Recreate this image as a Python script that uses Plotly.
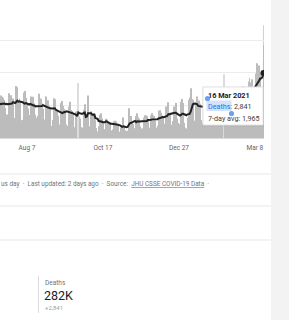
import pandas as pd
import plotly.graph_objects as go

# ---------------- data ----------------
start_date = "2020-07-05"
weekly_deaths = [
    [602, 620, 1254, 1223, 1220, 1214, 1071],
    [631, 733, 1300, 1261, 1233, 1163, 921],
    [716, 632, 1367, 1284, 1311, 1156, 1211],
    [555, 614, 1595, 1554, 1129, 1212, 1088],
    [541, 561, 1394, 1437, 1226, 1079, 905],
    [572, 703, 1274, 1175, 1262, 1060, 709],
    [620, 684, 1352, 1212, 1204, 1054, 892],
    [494, 565, 1271, 1085, 1156, 984, 913],
    [366, 553, 1215, 1184, 834, 874, 682],
    [310, 415, 1075, 1136, 983, 899, 814],
    [415, 377, 968, 1113, 858, 829, 739],
    [300, 330, 800, 820, 1680, 650, 600],
    [335, 317, 863, 1031, 729, 728, 1300],
    [363, 318, 819, 734, 730, 754, 543],
    [309, 201, 361, 713, 754, 597, 461],
    [230, 271, 586, 566, 497, 485, 432],
    [231, 263, 510, 530, 502, 420, 396],
    [190, 162, 320, 400, 630, 340, 240],
    [216, 219, 908, 598, 675, 500, 426],
    [235, 300, 676, 754, 638, 589, 350],
    [287, 302, 630, 698, 691, 673, 587],
    [272, 317, 697, 755, 694, 672, 534],
    [313, 376, 842, 848, 770, 686, 654],
    [279, 433, 964, 936, 1092, 764, 706],
    [403, 523, 968, 963, 1074, 600, 460],
    [324, 431, 1111, 1194, 1074, 462, 314],
    [293, 620, 1171, 1242, 1524, 1186, 1171],
    [469, 529, 1110, 1274, 1131, 1151, 1050],
    [551, 452, 1183, 1340, 1024, 1096, 1050],
    [592, 627, 1214, 1283, 1386, 1235, 1115],
    [595, 595, 1209, 1239, 1232, 1232, 1051],
    [1950, 631, 1350, 1330, 1452, 1212, 1147],
    [713, 647, 1035, 1104, 1367, 1340, 1212],
    [527, 639, 1386, 1428, 1582, 1541, 1275],
    [721, 778, 1726, 1840, 1699, 1800, 1555],
    [1086, 987, 1972, 2286, 2207, 2216, 1997],
    [1111, 1275, 2841],
]
light_days = ["2020-09-24", "2021-02-07"]
tick_dates = ["2020-08-07", "2020-10-17", "2020-12-27", "2021-03-08"]
tick_labels = ["Aug 7", "Oct 17", "Dec 27", "Mar 8"]
tooltip_date = "16 Mar 2021"
tooltip_deaths = "2,841"
tooltip_avg = "1,965"
total_label = "282K"
delta_label = "+2,841"

daily = [v for w in weekly_deaths for v in w]
dates = pd.date_range(start_date, periods=len(daily), freq="D")
s = pd.Series(daily, index=dates)
avg = s.rolling(7).mean()

W, H = 289, 320
def px(x):
    return x / W
def py(y):
    return 1 - y / H

light_set = set(pd.to_datetime(light_days))
colors = ["#dcdcdc" if d in light_set else "#bcbcbc" for d in dates]

fig = go.Figure()
fig.add_trace(go.Bar(x=dates, y=s.values, marker=dict(color=colors, line=dict(width=0)),
                     hoverinfo="skip"))
fig.add_trace(go.Scatter(x=dates, y=avg.values, mode="lines",
                         line=dict(color="#202124", width=2), hoverinfo="skip"))
fig.add_trace(go.Scatter(x=[dates[-1]], y=[avg.values[-1]], mode="markers",
                         marker=dict(color="#202124", size=6), hoverinfo="skip"))

shapes = []
shapes.append(dict(type="line", xref="x", yref="y", x0=dates[-1], x1=dates[-1], y0=0, y1=3450,
                   line=dict(color="#cfcfcf", width=1), layer="below"))
shapes.append(dict(type="rect", xref="paper", yref="paper", x0=px(271), x1=px(289), y0=0, y1=1,
                   fillcolor="#f3f3f3", line=dict(width=0), layer="above"))
for yy in [174, 206, 240]:
    shapes.append(dict(type="line", xref="paper", yref="paper", x0=0, x1=px(271), y0=py(yy), y1=py(yy),
                       line=dict(color="#e8e8e8", width=1.2)))
shapes.append(dict(type="line", xref="paper", yref="paper", x0=px(38.5), x1=px(38.5), y0=py(276), y1=py(313),
                   line=dict(color="#dadce0", width=1)))
# tooltip shadow + box
shapes.append(dict(type="rect", xref="paper", yref="paper", x0=px(202), x1=px(264), y0=py(126.5), y1=py(86.5),
                   fillcolor="rgba(0,0,0,0.06)", line=dict(width=0), layer="above"))
shapes.append(dict(type="rect", xref="paper", yref="paper", x0=px(203), x1=px(263), y0=py(125), y1=py(87),
                   fillcolor="white", line=dict(color="#e3e3e3", width=1), layer="above"))
shapes.append(dict(type="rect", xref="paper", yref="paper", x0=px(206.5), x1=px(231.5), y0=py(111), y1=py(100.5),
                   fillcolor="rgba(100,150,240,0.28)", line=dict(width=0), layer="above"))
for cx, cy in [(207.5, 98.5), (231.5, 113.5)]:
    shapes.append(dict(type="circle", xref="paper", yref="paper", x0=px(cx - 2.6), x1=px(cx + 2.6),
                       y0=py(cy + 2.6), y1=py(cy - 2.6), fillcolor="#6f9ef3", line=dict(width=0), layer="above"))

ann = []
def text(x, y, t, size, color, anchor="left", bold=False):
    ann.append(dict(xref="paper", yref="paper", x=px(x), y=py(y), text=("<b>%s</b>" % t) if bold else t,
                    showarrow=False, xanchor=anchor, yanchor="middle",
                    font=dict(family="Roboto", size=size, color=color)))

text(206, 95, tooltip_date, 7.3, "#202124", bold=True)
text(206, 106, '<span style="color:#1a73e8">Deaths:</span> ' + tooltip_deaths, 7.2, "#3c4043")
text(206, 118, "7-day avg: " + tooltip_avg, 7.2, "#3c4043")
text(-1, 184, "us day \u00a0·\u00a0 Last updated: 2 days ago \u00a0·\u00a0 Source: \u00a0<u>JHU CSSE COVID-19 Data</u> \u00a0·",
     6.4, "#70757a")
text(42.5, 283, "Deaths", 6.5, "#70757a")
text(42, 295.5, total_label, 12.5, "#202124")
text(42.5, 307, delta_label, 6, "#9aa0a6")

fig.update_layout(
    width=W, height=H, margin=dict(l=0, r=0, t=0, b=0),
    paper_bgcolor="white", plot_bgcolor="white", showlegend=False, bargap=0.25,
    shapes=shapes, annotations=ann,
    xaxis=dict(domain=[0, px(264)], range=["2020-07-12 19:00", "2021-03-16 12:00"], type="date",
               tickvals=tick_dates, ticktext=tick_labels, showgrid=False, zeroline=False,
               showline=True, linecolor="#dcdcdc", ticks="", ticklabelstandoff=3,
               tickfont=dict(family="Roboto", size=6.5, color="#5f6368")),
    yaxis=dict(domain=[py(138), py(13.87)], range=[0, 3800], tickvals=[1000, 2000, 3000],
               showticklabels=False, gridcolor="#ececec", gridwidth=1, zeroline=False),
)
fig.write_html("out.html")
